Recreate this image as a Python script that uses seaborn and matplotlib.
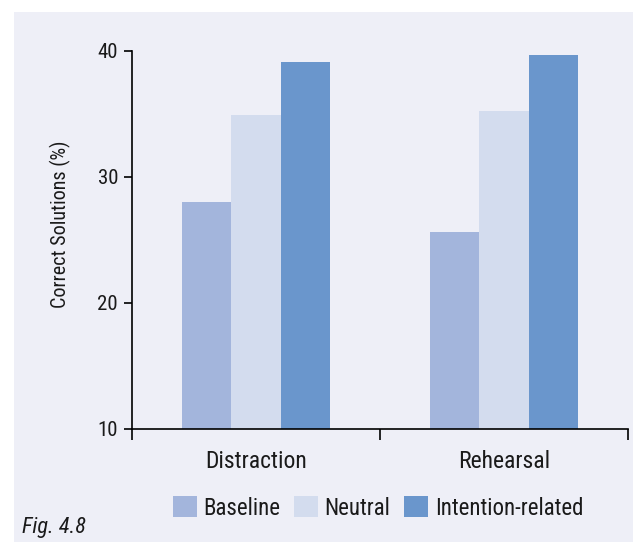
import matplotlib
matplotlib.use("Agg")
import matplotlib.pyplot as plt
from matplotlib import font_manager
from matplotlib.patches import Rectangle, Patch
from matplotlib.ticker import FixedLocator
import seaborn as sns
import pandas as pd

# Data
tasks = ["Distraction", "Rehearsal"]
conditions = ["Baseline", "Neutral", "Intention-related"]
baseline = [28.0, 25.6]
neutral = [34.9, 35.2]
intention = [39.1, 39.7]
colors = ["#A3B5DC", "#D3DCEE", "#6A96CC"]

rows = []
for cond, vals in zip(conditions, [baseline, neutral, intention]):
    for task, v in zip(tasks, vals):
        rows.append({"Task": task, "Condition": cond, "Value": v})
df = pd.DataFrame(rows)

sns.set_theme(style="white")

# Prefer a narrow sans face if one is available
fonts = font_manager.fontManager.ttflist
names = {f.name for f in fonts}
family = None
stretch = "normal"
for cand in ["Roboto Condensed", "Liberation Sans Narrow", "Open Sans Condensed",
             "Noto Sans Condensed"]:
    if cand in names:
        family = cand
        break
if family is None:
    cond_fonts = [f for f in fonts if "condensed" in str(f.stretch).lower()
                  or "Condensed" in f.fname]
    if cond_fonts:
        family = cond_fonts[0].name
        stretch = "condensed"
if family is None:
    family = "Roboto"
plt.rcParams["font.family"] = [family, "DejaVu Sans"]
plt.rcParams["font.stretch"] = stretch

TEXT = "#1a1a1a"
W, H = 633, 542
fig = plt.figure(figsize=(W / 100, H / 100), dpi=100)
fig.patch.set_facecolor("white")

# Tinted panel behind the chart
bg = Rectangle((14 / W, 0), 1 - 14 / W, 1 - 12 / H, transform=fig.transFigure,
               facecolor="#EEEFF7", edgecolor="none", zorder=-10)
fig.patches.append(bg)

ax = fig.add_axes([132 / W, 1 - 429 / H, (628 - 132) / W, (429 - 51) / H])
ax.set_facecolor("none")

sns.barplot(data=df, x="Task", y="Value", hue="Condition", order=tasks,
            hue_order=conditions, palette=colors, width=0.6, linewidth=0,
            saturation=1, ax=ax, legend=False)

ax.set_ylim(10, 40)
ax.set_xlim(-0.5, 1.5)
ax.set_yticks([10, 20, 30, 40])
ax.tick_params(axis="y", direction="out", length=6, width=1.2, color="black",
               labelsize=15, pad=4, left=True)
ax.tick_params(axis="x", which="major", length=0, labelsize=17, pad=15)
ax.xaxis.set_minor_locator(FixedLocator([-0.5, 0.5, 1.5]))
ax.tick_params(axis="x", which="minor", direction="out", length=8, width=1.2,
               color="black", bottom=True)
for s in ["top", "right"]:
    ax.spines[s].set_visible(False)
for s in ["left", "bottom"]:
    ax.spines[s].set_color("black")
    ax.spines[s].set_linewidth(1.2)

ax.set_xlabel("")
ax.set_ylabel("Correct Solutions (%)", fontsize=14.5, color=TEXT)
ax.yaxis.set_label_coords((71 - 132) / 496, (429 - 224) / 378)
for lbl in ax.get_xticklabels() + ax.get_yticklabels():
    lbl.set_color(TEXT)

handles = [Patch(facecolor=c, edgecolor="none") for c in colors]
fig.legend(handles, conditions, loc="center", bbox_to_anchor=(378 / W, 1 - 508 / H),
           ncol=3, frameon=False, fontsize=16.5, handlelength=1.05, handleheight=1.0,
           handletextpad=0.28, columnspacing=0.6, labelcolor=TEXT,
           borderpad=0, borderaxespad=0)

fig.text(22 / W, 1 - 528 / H, "Fig. 4.8", fontsize=16, style="italic",
         va="center", ha="left", color=TEXT)

fig.savefig("out.png", dpi=100)
